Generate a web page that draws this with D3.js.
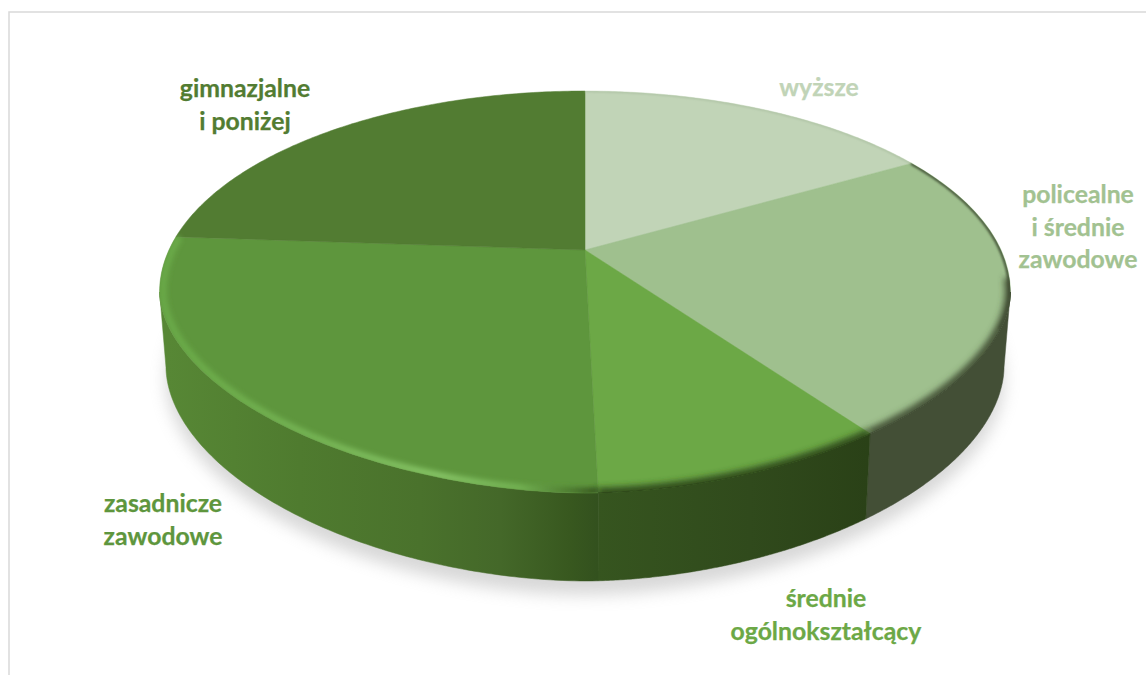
<!DOCTYPE html>
<html lang="pl">
<head>
<meta charset="UTF-8">
<title>Wykształcenie</title>
<script src="https://d3js.org/d3.v7.min.js"></script>
<style>
    html, body { margin: 0; padding: 0; background: #fff; overflow: hidden; }
    svg { display: block; }
    text { font-family: Lato, "Open Sans", sans-serif; font-weight: 700; font-size: 24.8px; text-anchor: middle; stroke-width: 0.25px; }
</style>
</head>
<body>
<div id="chart"></div>
<script>
// values (share of the pie, %)
const categories = ["wyższe", "policealne i średnie zawodowe", "średnie ogólnokształcący", "zasadnicze zawodowe", "gimnazjalne i poniżej"];
const values = [16.7, 23.7, 9.2, 26.5, 23.9];
const labelLines = [["wyższe"], ["policealne", "i średnie", "zawodowe"], ["średnie", "ogólnokształcący"], ["zasadnicze", "zawodowe"], ["gimnazjalne", "i poniżej"]];

// colours
const faceColors = ["#c1d4b7", "#9fc08e", "#6ca846", "#5e963d", "#527c32"];
const labelColors = ["#c1d4b7", "#a2c291", "#6ca846", "#5e963d", "#527c32"];

// layout of the labels: centre x and first baseline
const labelX = [819, 1078, 826, 163, 245];
const labelY = [96, 203, 607, 512, 97];
const lineStep = 32.5;

const width = 1146, height = 675;

// perspective disc: apex of the pie sits above the middle of the ellipse
const cx = 585, cy = 250, K = 416, k = 192.2, p = -0.209;
const rimX = a => Math.sin(a) / (1 - p * Math.cos(a));
const rimY = a => -Math.cos(a) / (1 - p * Math.cos(a));
const x = d3.scaleLinear().domain([0, 1]).range([cx, cx + K]);
const y = d3.scaleLinear().domain([0, 1]).range([cy, cy + k]);

// the front half of the rim is a bit flatter than a true ellipse
const rx = K / Math.sqrt(1 - p * p), ry = 201, ey = 292, flat = 1.85;
function rimPt(a) {
    const X = x(rimX(a));
    let Y = y(rimY(a));
    if (Y > ey) {
        const t = Math.min(1, Math.abs(X - cx) / rx);
        Y = ey + ry * Math.pow(1 - Math.pow(t, flat), 1 / flat);
    }
    return [X, Y];
}
const topPt = (a, s = 1) => {
    const r = rimPt(a);
    return [cx + (r[0] - cx) * s, cy + (r[1] - cy) * s];
};
// bottom edge of the wall, slightly narrower and further down at the front
const botPt = a => {
    const t = rimPt(a);
    return [cx + (t[0] - cx) * 0.985, t[1] + 72 + 16 * (-Math.cos(a))];
};

const rad = d => d * Math.PI / 180;
const visFrom = Math.acos(p), visTo = 2 * Math.PI - Math.acos(p);
const samples = (a0, a1) => d3.range(0, 121).map(i => a0 + (a1 - a0) * i / 120);
const line = d3.line();

const arcs = d3.pie().sort(null).value(d => d)(values);

const svg = d3.select("#chart").append("svg").attr("width", width).attr("height", height);
const defs = svg.append("defs");

function blur(id, dev) {
    defs.append("filter").attr("id", id)
        .attr("filterUnits", "userSpaceOnUse")
        .attr("x", 0).attr("y", 0).attr("width", width).attr("height", height)
        .append("feGaussianBlur").attr("stdDeviation", dev);
}
blur("blurShadow", 8);
blur("blurWide", 3.2);
blur("blurMid", 2.4);
blur("blurThin", 1);

function gradient(id, stops) {
    const g = defs.append("linearGradient").attr("id", id)
        .attr("gradientUnits", "userSpaceOnUse")
        .attr("x1", 0).attr("x2", width).attr("y1", 0).attr("y2", 0);
    stops.forEach(s => g.append("stop").attr("offset", s[0] / width).attr("stop-color", s[1]));
}
const wallFills = [null, "#434f36", "url(#wallMid)", "url(#wallLeft)", null];
gradient("wallLeft", [[168, "#578735"], [300, "#4f7b2f"], [420, "#4a722c"], [500, "#446829"], [570, "#38581f"], [598, "#33511e"]]);
gradient("wallMid", [[598, "#36551f"], [750, "#304a1c"], [868, "#2a4117"]]);
gradient("bevelLeft", [[160, "#69a947"], [300, "#74b353"], [440, "#86c466"], [520, "#72b152"], [570, "#4d7a30"], [598, "#33511e"]]);

// frame of the original chart area
svg.append("path")
    .attr("d", line([[9, height], [9, 12], [width, 12]]))
    .attr("fill", "none").attr("stroke", "#d9d9d9").attr("stroke-width", 1.5);

// soft shadow under the disc
const ring = samples(0, 2 * Math.PI);
svg.append("path")
    .attr("d", line(ring.map(a => { const b = botPt(a); return [b[0], b[1] + 14]; })) + "Z")
    .attr("fill", "#a8a8a8").attr("opacity", 0.45).attr("filter", "url(#blurShadow)");

// outline of whole disc, for clipping the bevels
defs.append("clipPath").attr("id", "faceClip").append("path")
    .attr("d", line(ring.map(a => topPt(a))) + "Z");

// walls
svg.append("g").selectAll("path")
    .data(arcs.filter((d, i) => wallFills[i]))
    .join("path")
    .attr("d", d => {
        const a0 = Math.max(d.startAngle, visFrom), a1 = Math.min(d.endAngle, visTo);
        const s = samples(a0, a1);
        return line(s.map(a => topPt(a)).concat(s.slice().reverse().map(botPt))) + "Z";
    })
    .attr("fill", d => wallFills[d.index])
    .attr("stroke", d => wallFills[d.index])
    .attr("stroke-width", 0.5);

// top faces
svg.append("g").selectAll("path")
    .data(arcs)
    .join("path")
    .attr("d", d => line([[x(0), y(0)]].concat(samples(d.startAngle, d.endAngle).map(a => topPt(a)))) + "Z")
    .attr("fill", d => faceColors[d.index])
    .attr("stroke", d => faceColors[d.index])
    .attr("stroke-width", 0.5);

// bevel along the rim
const bevels = [
    { i: 0, color: "#a9bd9f", w: 1.5, f: "blurThin", s: 0.998 },
    { i: 1, color: "#4a5a3d", w: 3, f: "blurThin", s: 0.998, back: true },
    { i: 1, color: "#434f36", w: 9, f: "blurWide", s: 0.998, front: true },
    { i: 2, color: "#2f4a1a", w: 9, f: "blurWide", s: 0.998 },
    { i: 3, color: "url(#bevelLeft)", w: 7, f: "blurMid", s: 0.992 }
];
const bevelG = svg.append("g").attr("clip-path", "url(#faceClip)");
bevels.forEach(b => {
    const d = arcs[b.i];
    let a0 = d.startAngle, a1 = d.endAngle;
    if (b.back) a1 = visFrom + rad(12);
    if (b.front) a0 = visFrom - rad(4);
    bevelG.append("path")
        .attr("d", line(samples(a0, a1).map(a => topPt(a, b.s))))
        .attr("fill", "none")
        .attr("stroke", b.color)
        .attr("stroke-width", b.w)
        .attr("filter", "url(#" + b.f + ")");
});

// thin seam cover where the dark bevels meet the wall
[[1, "#434f36"], [2, "#2f4a1a"]].forEach(([i, color]) => {
    const d = arcs[i];
    svg.append("path")
        .attr("d", line(samples(Math.max(d.startAngle, visFrom), d.endAngle).map(a => topPt(a))))
        .attr("fill", "none")
        .attr("stroke", color)
        .attr("stroke-width", 1.2);
});

// labels
svg.append("g").selectAll("text")
    .data(labelLines)
    .join("text")
    .attr("fill", (d, i) => labelColors[i])
    .attr("stroke", (d, i) => labelColors[i])
    .each(function (lines, i) {
        d3.select(this).selectAll("tspan")
            .data(lines)
            .join("tspan")
            .attr("x", labelX[i])
            .attr("y", (l, j) => labelY[i] + j * lineStep)
            .text(l => l);
    });
</script>
</body>
</html>
